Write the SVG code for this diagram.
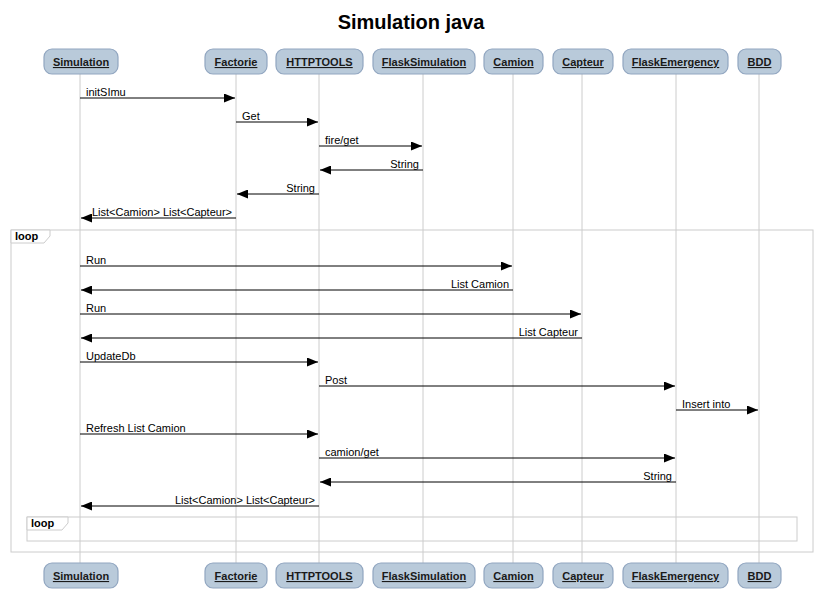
<svg xmlns="http://www.w3.org/2000/svg" width="823" height="612" viewBox="0 0 823 612">
<defs>
<marker id="ah" markerWidth="11" markerHeight="9" refX="11" refY="4.5" orient="auto" markerUnits="userSpaceOnUse">
<path d="M0,0 L11,4.5 L0,9 Z" fill="#000"/>
</marker>
<style>
.box{fill:#b9cada;stroke:#91a6c0;stroke-width:1.2}
.pt{font-family:"Liberation Sans",Arial,sans-serif;font-size:11px;font-weight:bold;text-decoration:underline;fill:#1a1a1a;text-anchor:middle}
.life{stroke:#cccccc;stroke-width:1}
.msg{stroke:#000;stroke-width:1;marker-end:url(#ah)}
.ml{font-family:"Liberation Sans",Arial,sans-serif;font-size:11px;fill:#000}
.r{text-anchor:end}
.frame{fill:none;stroke:#cccccc;stroke-width:1}
.tab{fill:#fff;stroke:#cccccc;stroke-width:1}
.lt{font-family:"Liberation Sans",Arial,sans-serif;font-size:11px;font-weight:bold;fill:#000}
</style>
</defs>
<rect width="823" height="612" fill="#fff"/>
<text x="411" y="29" text-anchor="middle" font-family="Liberation Sans,Arial,sans-serif" font-size="20" font-weight="bold" fill="#000">Simulation java</text>
<g id="lifelines">
<line class="life" x1="80" y1="74" x2="80" y2="563"/>
<line class="life" x1="236" y1="74" x2="236" y2="563"/>
<line class="life" x1="319" y1="74" x2="319" y2="563"/>
<line class="life" x1="423" y1="74" x2="423" y2="563"/>
<line class="life" x1="513" y1="74" x2="513" y2="563"/>
<line class="life" x1="582" y1="74" x2="582" y2="563"/>
<line class="life" x1="676" y1="74" x2="676" y2="563"/>
<line class="life" x1="759" y1="74" x2="759" y2="563"/>
</g>
<g id="loops">
<rect class="frame" x="11" y="230" width="802" height="322"/>
<path class="tab" d="M11,230 H50 V236 L44,243 H11 Z"/>
<text class="lt" x="15" y="240">loop</text>
<rect class="frame" x="27" y="517" width="770" height="24"/>
<path class="tab" d="M27,517 H68 V523 L62,530 H27 Z"/>
<text class="lt" x="31" y="527">loop</text>
</g>
<g id="p-simulation"><rect class="box" x="44" y="49" width="74" height="25" rx="8"/><text class="pt" x="81" y="66">Simulation</text>
<rect class="box" x="44" y="563" width="74" height="25" rx="8"/><text class="pt" x="81" y="580">Simulation</text></g>
<g id="p-factorie"><rect class="box" x="205" y="49" width="62" height="25" rx="8"/><text class="pt" x="236" y="66">Factorie</text>
<rect class="box" x="205" y="563" width="62" height="25" rx="8"/><text class="pt" x="236" y="580">Factorie</text></g>
<g id="p-httptools"><rect class="box" x="276" y="49" width="87" height="25" rx="8"/><text class="pt" x="319.5" y="66">HTTPTOOLS</text>
<rect class="box" x="276" y="563" width="87" height="25" rx="8"/><text class="pt" x="319.5" y="580">HTTPTOOLS</text></g>
<g id="p-flasksimulation"><rect class="box" x="373" y="49" width="102" height="25" rx="8"/><text class="pt" x="424" y="66">FlaskSimulation</text>
<rect class="box" x="373" y="563" width="102" height="25" rx="8"/><text class="pt" x="424" y="580">FlaskSimulation</text></g>
<g id="p-camion"><rect class="box" x="484" y="49" width="59" height="25" rx="8"/><text class="pt" x="513.5" y="66">Camion</text>
<rect class="box" x="484" y="563" width="59" height="25" rx="8"/><text class="pt" x="513.5" y="580">Camion</text></g>
<g id="p-capteur"><rect class="box" x="553" y="49" width="60" height="25" rx="8"/><text class="pt" x="583" y="66">Capteur</text>
<rect class="box" x="553" y="563" width="60" height="25" rx="8"/><text class="pt" x="583" y="580">Capteur</text></g>
<g id="p-flaskemergency"><rect class="box" x="623" y="49" width="105" height="25" rx="8"/><text class="pt" x="675.5" y="66">FlaskEmergency</text>
<rect class="box" x="623" y="563" width="105" height="25" rx="8"/><text class="pt" x="675.5" y="580">FlaskEmergency</text></g>
<g id="p-bdd"><rect class="box" x="738" y="49" width="43" height="25" rx="8"/><text class="pt" x="759.5" y="66">BDD</text>
<rect class="box" x="738" y="563" width="43" height="25" rx="8"/><text class="pt" x="759.5" y="580">BDD</text></g>
<g id="connectors">
<line class="msg" x1="80" y1="98" x2="235" y2="98"/><text class="ml" x="86" y="96">initSImu</text>
<line class="msg" x1="236" y1="122" x2="318" y2="122"/><text class="ml" x="242" y="120">Get</text>
<line class="msg" x1="319" y1="146" x2="422" y2="146"/><text class="ml" x="325" y="144">fire/get</text>
<line class="msg" x1="423" y1="170" x2="320" y2="170"/><text class="ml r" x="419" y="168">String</text>
<line class="msg" x1="319" y1="194" x2="237" y2="194"/><text class="ml r" x="315" y="192">String</text>
<line class="msg" x1="236" y1="218" x2="81" y2="218"/><text class="ml r" x="232" y="216">List&lt;Camion&gt; List&lt;Capteur&gt;</text>
<line class="msg" x1="80" y1="266" x2="512" y2="266"/><text class="ml" x="86" y="264">Run</text>
<line class="msg" x1="513" y1="290" x2="81" y2="290"/><text class="ml r" x="509" y="288">List Camion</text>
<line class="msg" x1="80" y1="314" x2="581" y2="314"/><text class="ml" x="86" y="312">Run</text>
<line class="msg" x1="582" y1="338" x2="81" y2="338"/><text class="ml r" x="578" y="336">List Capteur</text>
<line class="msg" x1="80" y1="362" x2="318" y2="362"/><text class="ml" x="86" y="360">UpdateDb</text>
<line class="msg" x1="319" y1="386" x2="675" y2="386"/><text class="ml" x="325" y="384">Post</text>
<line class="msg" x1="676" y1="410" x2="758" y2="410"/><text class="ml" x="682" y="408">Insert into</text>
<line class="msg" x1="80" y1="434" x2="318" y2="434"/><text class="ml" x="86" y="432">Refresh List Camion</text>
<line class="msg" x1="319" y1="458" x2="675" y2="458"/><text class="ml" x="325" y="456">camion/get</text>
<line class="msg" x1="676" y1="482" x2="320" y2="482"/><text class="ml r" x="672" y="480">String</text>
<line class="msg" x1="319" y1="506" x2="81" y2="506"/><text class="ml r" x="315" y="504">List&lt;Camion&gt; List&lt;Capteur&gt;</text>
</g>
</svg>
